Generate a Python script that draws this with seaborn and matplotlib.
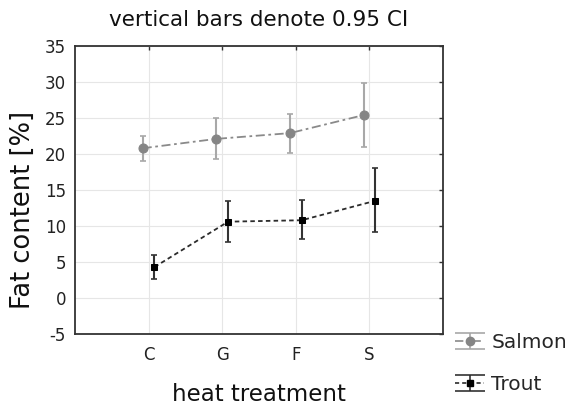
import numpy as np
import pandas as pd
import matplotlib
matplotlib.use("Agg")
import matplotlib.pyplot as plt
from matplotlib.lines import Line2D
from matplotlib.path import Path
from matplotlib.legend_handler import HandlerTuple
import seaborn as sns

# values
treatments = ["C", "G", "F", "S"]
salmon_mean = [20.8, 22.1, 22.9, 25.4]
salmon_lo = [19.0, 19.3, 20.2, 21.0]
salmon_hi = [22.5, 25.0, 25.6, 29.9]
trout_mean = [4.3, 10.6, 10.8, 13.5]
trout_lo = [2.6, 7.8, 8.2, 9.1]
trout_hi = [6.0, 13.5, 13.6, 18.0]

sns.set_style("whitegrid")
plt.rcParams["font.family"] = ["DejaVu Sans"]
plt.rcParams["axes.unicode_minus"] = False

# long table for seaborn
rows = []
for fish, m, lo, hi in [("Salmon", salmon_mean, salmon_lo, salmon_hi),
                        ("Trout", trout_mean, trout_lo, trout_hi)]:
    for i, t in enumerate(treatments):
        rows.append({"fish": fish, "treatment": t, "idx": i,
                     "mean": m[i], "lo": lo[i], "hi": hi[i]})
df = pd.DataFrame(rows)
# small horizontal dodge so the two series don't overlap
offsets = {"Salmon": -0.08, "Trout": 0.08}
df["xpos"] = df["idx"] + df["fish"].map(offsets)

line_col = {"Salmon": "#8a8a8a", "Trout": "#2b2b2b"}
bar_col = {"Salmon": "#a8a8a8", "Trout": "#333333"}
mark_col = {"Salmon": "#858585", "Trout": "#000000"}
dash_style = {"Salmon": (5, 2, 1.5, 2), "Trout": (2.5, 1.8)}
mark_style = {"Salmon": "o", "Trout": "s"}
mark_size = {"Salmon": 6.5, "Trout": 4.5}

fig = plt.figure(figsize=(5.68, 4.08), dpi=100)
ax = fig.add_axes([75 / 568, 1 - 334 / 408, 368 / 568, 288 / 408])

for fish, sub in df.groupby("fish"):
    ax.errorbar(sub["xpos"], sub["mean"],
                yerr=[sub["mean"] - sub["lo"], sub["hi"] - sub["mean"]],
                fmt="none", ecolor=bar_col[fish], elinewidth=1.5,
                capsize=2.5, capthick=1.2, zorder=2)

sns.lineplot(data=df, x="xpos", y="mean", hue="fish", style="fish",
             palette=line_col, dashes=dash_style, markers=mark_style,
             linewidth=1.3, legend=False, ax=ax, zorder=3)
# marker sizes / colours per series
for ln, fish in zip(ax.get_lines()[-2:], ["Salmon", "Trout"]):
    ln.set_markersize(mark_size[fish])
    ln.set_markerfacecolor(mark_col[fish])
    ln.set_markeredgecolor(mark_col[fish])

ax.set_xlim(-1, 4)
ax.set_ylim(-5, 35)
ax.set_xticks(range(len(treatments)))
ax.set_xticklabels(treatments)
ax.set_yticks(np.arange(-5, 36, 5))
ax.grid(True, color="#e6e6e6", linewidth=0.8)
ax.tick_params(direction="in", top=True, right=True, length=3, width=1,
               color="#333333", labelsize=12, labelcolor="#222222")
ax.tick_params(axis="y", pad=6.5)
ax.tick_params(axis="x", pad=8.5)
for sp in ax.spines.values():
    sp.set_color("#333333")
    sp.set_linewidth(1.3)

ax.set_title("vertical bars denote 0.95 CI", fontsize=15.5, pad=14.4, color="#111111")
ax.set_xlabel("heat treatment", fontsize=16.5, labelpad=14, color="#111111")
ax.set_ylabel("Fat content [%]", fontsize=18.5, color="#111111")
ax.yaxis.set_label_coords(-0.105, 0.43)

# legend handle: an I-beam (CI bar with wide caps) under the dashed line + marker
ibeam = Path([(-1, 0.57), (1, 0.57), (-1, -0.57), (1, -0.57), (0, -0.57), (0, 0.57)],
             [Path.MOVETO, Path.LINETO, Path.MOVETO, Path.LINETO, Path.MOVETO, Path.LINETO])
handles = []
for fish in ["Salmon", "Trout"]:
    beam = Line2D([], [], linestyle="none", marker=ibeam, markersize=21,
                  markerfacecolor="none", markeredgecolor=bar_col[fish],
                  markeredgewidth=1.2)
    ln = Line2D([], [], color=line_col[fish], linewidth=1.2,
                dashes=dash_style[fish], marker=mark_style[fish],
                markersize=mark_size[fish] - 0.5, markerfacecolor=mark_col[fish],
                markeredgecolor=mark_col[fish])
    handles.append((beam, ln))

fig.legend(handles, ["Salmon", "Trout"], handler_map={tuple: HandlerTuple()},
           loc="upper left", bbox_to_anchor=(455 / 568, 1 - 333 / 408),
           frameon=False, borderpad=0, borderaxespad=0, fontsize=14.5,
           handlelength=1.45, handletextpad=0.35, labelspacing=1.15,
           numpoints=1)

fig.savefig("out.png", dpi=100)
